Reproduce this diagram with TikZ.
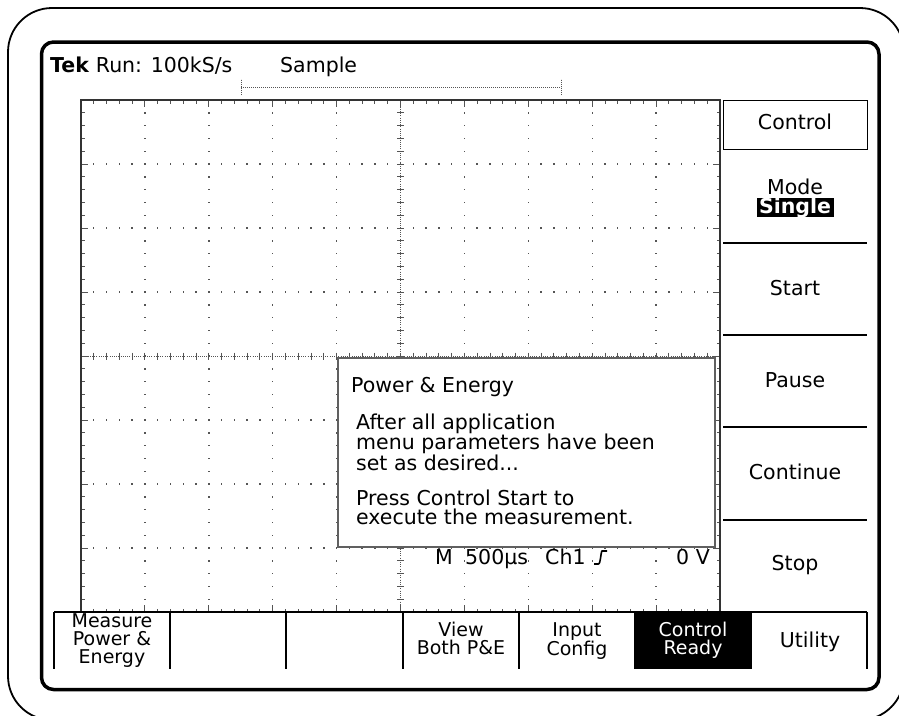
\documentclass[tikz,border=0pt]{standalone}
\usepackage{fontspec}
\setmainfont{DejaVu Sans}
\definecolor{gridgray}{HTML}{555555}
\definecolor{edgegray}{HTML}{333333}
\definecolor{boxgray}{HTML}{606060}
% stacked lines: the box baseline is that of the first line
\newcommand\cstack[1]{\vtop{\halign{\hfil##\hfil\cr#1\crcr}}}
\newcommand\lstack[1]{\vtop{\halign{##\hfil\cr#1\crcr}}}
\begin{document}
\begin{tikzpicture}[x=1pt,y=-1pt,
  lbl/.style={inner sep=0pt, anchor=base, font=\fontsize{20.5}{17}\selectfont},
  lblw/.style={lbl, anchor=base west},
  lble/.style={lbl, anchor=base east},
  keylbl/.style={lbl, font=\fontsize{19}{18}\selectfont},
  gtick/.style={draw=gridgray, line width=0.9pt},
  ctrline/.style={draw=gridgray, line width=0.9pt, dash pattern=on 0.9pt off 1.3pt},
  recline/.style={draw=gridgray, line width=0.9pt, dash pattern=on 0.9pt off 1.1pt},
  sepline/.style={draw=black, line width=1.3pt},
  keyline/.style={draw=black, line width=2pt},
  thinline/.style={draw=black, line width=1.1pt}]

\useasboundingbox (0,0) rectangle (899,715);
\clip (0,0) rectangle (899,715);

% bezel outlines
\draw[line width=1.8pt, rounded corners=44pt] (8,8) rectangle (904,720);
\draw[line width=3.5pt, rounded corners=12pt] (41.5,42) rectangle (879,689.5);

% readout line
\node[lblw] (tek) at (50,72) {\textbf{Tek} Run: 100kS/s};
\node[lblw] (smp) at (280,72) {Sample};

% record-length bar
\coordinate (recL) at (241,87);
\coordinate (recR) at (561,87);
\draw[recline] (recL) -- (recR);
\draw[recline] ([yshift=-8pt]recL) -- ([yshift=8pt]recL);
\draw[recline] ([yshift=-8pt]recR) -- ([yshift=8pt]recR);

% graticule: dotted major divisions
\foreach \i in {1,...,9}{%
  \ifnum\i=5\else
    \pgfmathsetmacro\gx{81+63.9*\i}
    \foreach \k in {1,...,39}{%
      \pgfmathsetmacro\gy{100+12.8*\k}
      \fill[gridgray] (\gx-0.7,\gy-0.7) rectangle ++(1.4,1.4);
    }
  \fi
}
\foreach \j in {1,...,7}{%
  \ifnum\j=4\else
    \pgfmathsetmacro\gy{100+64*\j}
    \foreach \k in {1,...,49}{%
      \pgfmathsetmacro\gx{81+12.78*\k}
      \fill[gridgray] (\gx-0.7,\gy-0.7) rectangle ++(1.4,1.4);
    }
  \fi
}

% graticule: centre axes with minor ticks
\draw[ctrline] (400.5,100) -- (400.5,612);
\draw[ctrline] (81,356) -- (720,356);
\foreach \k in {1,...,39}{%
  \pgfmathsetmacro\gy{100+12.8*\k}
  \draw[gtick] (397,\gy) -- (404,\gy);
}
\foreach \k in {1,...,49}{%
  \pgfmathsetmacro\gx{81+12.78*\k}
  \draw[gtick] (\gx,352.5) -- (\gx,359.5);
}

% graticule: edge ticks
\foreach \k in {1,...,49}{%
  \pgfmathsetmacro\gx{81+12.78*\k}
  \pgfmathsetmacro\tl{mod(\k,5)==0 ? 7 : 3.5}
  \draw[gtick] (\gx,100) -- (\gx,100+\tl);
  \draw[gtick] (\gx,612) -- (\gx,612-\tl);
}
\foreach \k in {1,...,39}{%
  \pgfmathsetmacro\gy{100+12.8*\k}
  \pgfmathsetmacro\tl{mod(\k,5)==0 ? 7 : 3.5}
  \draw[gtick] (81,\gy) -- (81+\tl,\gy);
  \draw[gtick] (720,\gy) -- (720-\tl,\gy);
}
\draw[draw=edgegray, line width=1.3pt] (81,100) rectangle (720,612);

% message box
\node[draw=boxgray, line width=1.8pt, fill=white, minimum width=377pt,
      minimum height=189pt, inner sep=0pt, anchor=north west] (dlg) at (337,357) {};
\node[lblw] (dlgT) at (351,392) {Power \& Energy};
\node[lblw, font=\fontsize{20.5}{19}\selectfont] (dlgA) at (356,429)
  {\lstack{After all application\cr menu parameters have been\cr set as desired...}};
\node[lblw, font=\fontsize{20.5}{19}\selectfont] (dlgB) at (356,505)
  {\lstack{Press Control Start to\cr execute the measurement.}};

% status readout
\node[lblw] (stM) at (435,564) {M};
\node[lblw] (stT) at (465,564) {500µs};
\node[lblw] (stC) at (545,564) {Ch1};
\node[lble] (stV) at (710,564) {0 V};
\coordinate (trg) at (594,564);
\draw[line width=1.6pt, line join=round] (trg) -- ++(4.5,0)
  .. controls ++(2,0) and ++(-1,0) .. ++(3.5,-13) -- ++(5,0);

% side menu
\node[draw, line width=1.3pt, minimum width=144pt, minimum height=49pt,
      inner sep=0pt, anchor=north west] (ctl) at (723,100) {};
\node[lbl] (ctlT) at (795,129) {Control};
\node[lbl] (mode) at (795,194) {Mode};
\node[lbl, fill=black, text=white, inner xsep=2.5pt, inner ysep=0pt,
      text height=15.5pt, text depth=4pt] (single) at (795,213) {\bfseries Single};
\draw[sepline] (723,243) -- (867,243);
\node[lbl] (start) at (795,295) {Start};
\draw[sepline] (723,335) -- (867,335);
\node[lbl] (pause) at (795,387) {Pause};
\draw[sepline] (723,427) -- (867,427);
\node[lbl] (cont) at (795,479) {Continue};
\draw[sepline] (723,520) -- (867,520);
\node[lbl] (stop) at (795,570) {Stop};

% bottom menu
\fill (634,612) rectangle (752,669);
\draw[keyline] (54,612) -- (867,612);
\foreach \bx in {170,286,403,519}{\draw[keyline] (\bx,612) -- (\bx,669);}
\draw[thinline] (54,612) -- (54,669);
\draw[thinline] (867,612) -- (867,669);
\node[keylbl] (b1) at (112,627) {\cstack{Measure\cr Power \&\cr Energy}};
\node[keylbl] (b4) at (461,636) {\cstack{View\cr Both P\&E}};
\node[keylbl] (b5) at (577,636) {\cstack{Input\cr Config}};
\node[keylbl, text=white] (b6) at (693,636) {\cstack{Control\cr Ready}};
\node[lbl] (b7) at (810,647) {Utility};
\end{tikzpicture}
\end{document}
